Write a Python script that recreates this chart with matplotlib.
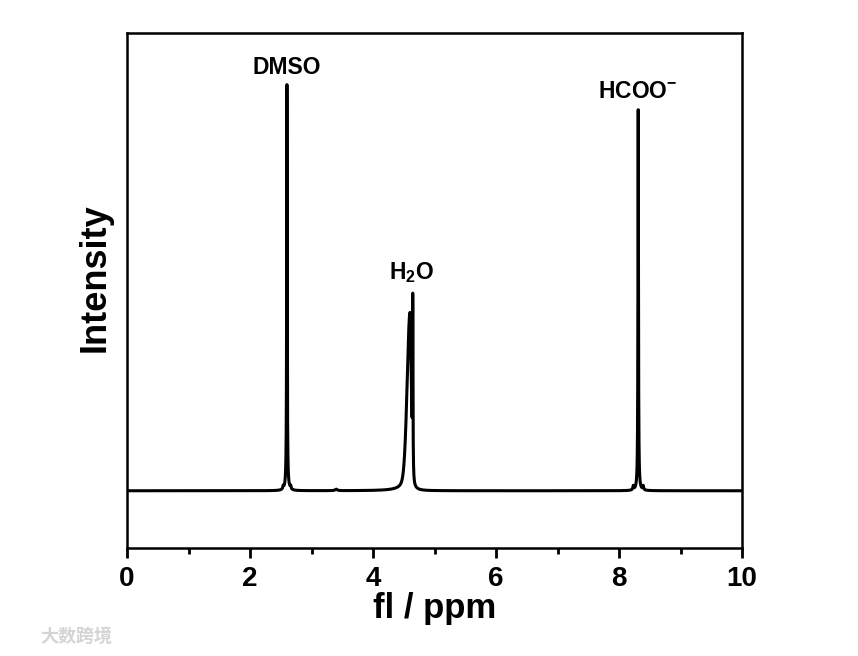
import numpy as np
import matplotlib.pyplot as plt

plt.rcParams['font.family'] = ['Liberation Sans', 'DejaVu Sans']
plt.rcParams['font.weight'] = 'bold'

# peak list: position (ppm), height, left / right half width,
# lorentzian fraction of the line shape
peak_pos = [2.60, 2.54, 2.66, 3.40, 4.60, 4.645, 8.31, 8.23, 8.39]
peak_height = [4.06, 0.03, 0.03, 0.015, 1.77, 1.72, 3.81, 0.04, 0.04]
width_left = [0.005, 0.008, 0.008, 0.02, 0.055, 0.004, 0.005, 0.008, 0.008]
width_right = [0.005, 0.008, 0.008, 0.02, 0.025, 0.004, 0.005, 0.008, 0.008]
lorentz_frac = [1.0, 1.0, 1.0, 1.0, 0.3, 1.0, 1.0, 1.0, 1.0]

labels = ['DMSO', 'H$_\\mathregular{2}$O', 'HCOO$^{\\mathregular{-}}$']
label_x = [2.6, 4.62, 8.3]
label_y = [4.12, 2.06, 3.88]

x = np.linspace(0, 10, 40001)
y = np.zeros_like(x)
for p, h, wl, wr, eta in zip(peak_pos, peak_height, width_left, width_right, lorentz_frac):
    w = np.where(x < p, wl, wr)
    u = (x - p) / w
    y += h * (eta / (1 + u ** 2) + (1 - eta) * np.exp(-np.log(2) * u ** 2))

fig = plt.figure(figsize=(8.58, 6.56), dpi=100)
ax = fig.add_axes([0.148, 0.165, 0.717, 0.785])
ax.plot(x, y, color='black', lw=2.2)

ax.set_xlim(0, 10)
ax.set_ylim(-0.57, 4.58)
ax.set_xticks([0, 2, 4, 6, 8, 10])
ax.set_xticks([1, 3, 5, 7, 9], minor=True)
ax.set_yticks([])
ax.tick_params(axis='x', which='major', direction='out', length=7, width=2, labelsize=20, pad=6)
ax.tick_params(axis='x', which='minor', direction='out', length=4, width=2)
for s in ax.spines.values():
    s.set_linewidth(1.8)

ax.set_xlabel('fl / ppm', fontsize=25, fontweight='bold', labelpad=0)
ax.set_ylabel('Intensity', fontsize=26, fontweight='bold')
ax.yaxis.set_label_coords(-0.023, 0.525)

for t, lx, ly in zip(labels, label_x, label_y):
    ax.text(lx, ly, t, ha='center', va='bottom', fontsize=16.5, fontweight='bold')

fig.text(0.047, 0.022, '大数跨境', color='#d4d4d4', fontsize=13,
         family=['Noto Sans CJK SC', 'DejaVu Sans'])

fig.savefig('out.png', dpi=100, facecolor='white')
